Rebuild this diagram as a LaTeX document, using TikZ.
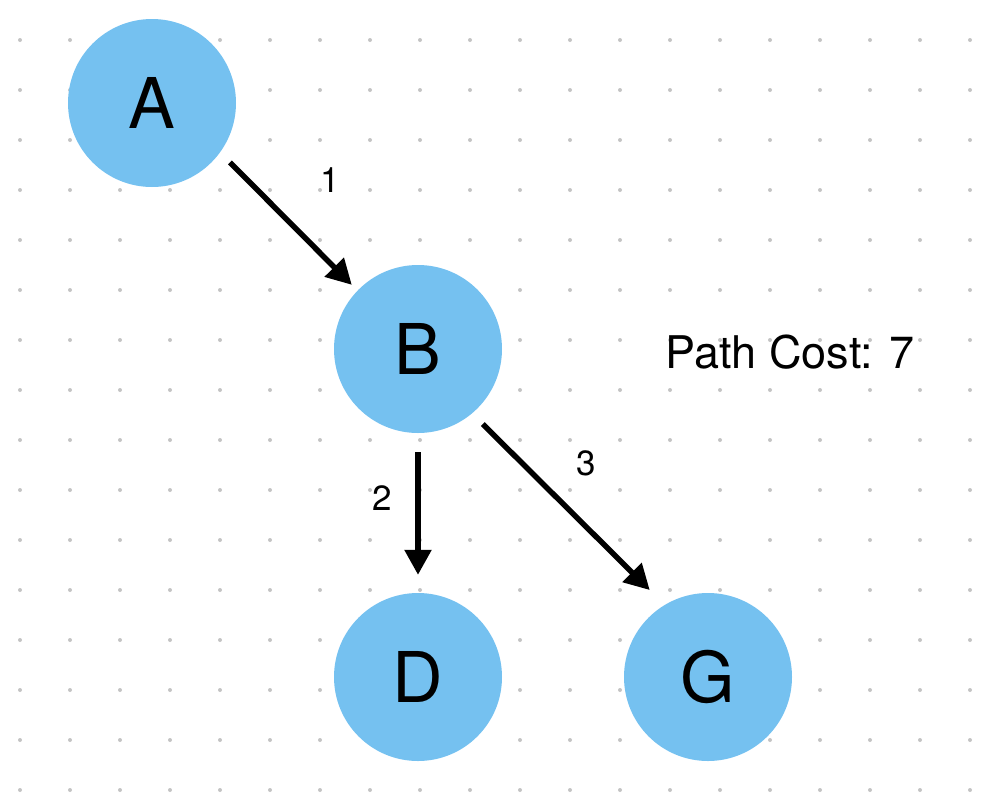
\documentclass[tikz,border=0pt]{standalone}
\usepackage{fontspec}
\setmainfont{TeX Gyre Heros}
\usepackage{xcolor}
\usepackage{tikz}
\usetikzlibrary{positioning, calc, arrows.meta}
\definecolor{nodeblue}{RGB}{117, 193, 240}
\definecolor{dotgray}{RGB}{196, 196, 196}

\begin{document}
\begin{tikzpicture}[x=1pt, y=-1pt,
    vertex/.style={circle, fill=nodeblue, minimum size=168pt, inner sep=0pt, font=\fontsize{70}{70}\selectfont},
    edge/.style={line width=5.5pt, -{Triangle[length=25pt, width=26pt]}},
    weight/.style={font=\fontsize{35}{35}\selectfont}]
    \useasboundingbox (0,0) rectangle (988,804);
    % dot grid
    \foreach \i in {0,...,19} {
        \foreach \j in {0,...,15} {
            \fill[dotgray] (20+50*\i, 40+50*\j) circle (2pt);
        }
    }
    
    % vertices
    \node[vertex] (A) at (152,103) {A};
    \node[vertex] (B) at (418,349) {B};
    \node[vertex] (D) at (418,677) {D};
    \node[vertex] (G) at (708,677) {G};
    
    % edges
    \draw[edge, shorten <=14pt, shorten >=8pt] (A.-36) -- (B.136)
        node[weight, midway, xshift=41pt, yshift=41pt] {1};
    \draw[edge, shorten <=19pt, shorten >=18pt] (B) -- (D)
        node[weight, midway, xshift=-36pt, yshift=15pt] {2};
    \draw[edge, shorten <=15pt, shorten >=21pt] (B.-50) -- (G.121)
        node[weight, midway, xshift=18pt, yshift=46pt] {3};
    
    \node[font=\fontsize{45}{45}\selectfont] (cost) at (790,352) {Path Cost: 7};
\end{tikzpicture}
\end{document}
